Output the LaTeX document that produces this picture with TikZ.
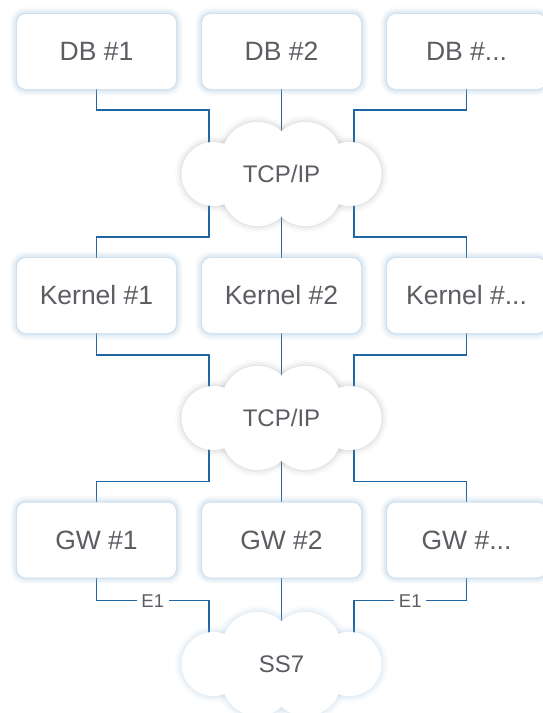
\documentclass[tikz,border=0pt]{standalone}
\usepackage{fontspec}
\setmainfont{Liberation Sans}
\usetikzlibrary{backgrounds}
\definecolor{linec}{HTML}{1F66A3}
\definecolor{textc}{HTML}{5C5C63}
\definecolor{glowb}{HTML}{9CC0DE}
\definecolor{glowg}{HTML}{A0A0A0}
\tikzset{
  box/.style={rounded corners=9pt, fill=white, minimum width=159pt, minimum height=75pt,
    text=textc, font=\fontsize{26.5}{30}\selectfont, inner sep=0pt,
    preaction={draw=glowb, line width=14pt, draw opacity=.06},
    preaction={draw=glowb, line width=10pt, draw opacity=.10},
    preaction={draw=glowb, line width=6pt, draw opacity=.15},
    preaction={draw=glowb, line width=2.5pt, draw opacity=.25}},
  conn/.style={draw=linec, line width=1.5pt},
  cloudtext/.style={text=textc, font=\fontsize{24}{28}\selectfont},
  elabel/.style={fill=white, text=textc, font=\fontsize{18.5}{22}\selectfont, inner sep=4.5pt}
}
\newcommand{\mycloud}[2]{%
  \begin{scope}[shift={(#1)}]
    \foreach \dx/\dy/\r in {-68/0/32, 68/0/32, -24/-16/36, 24/-16/36, -24/16/36, 24/16/36} {
      \draw[draw=#2, line width=13pt, draw opacity=.05] (\dx,\dy) circle (\r pt);
      \draw[draw=#2, line width=8pt, draw opacity=.08] (\dx,\dy) circle (\r pt);
      \draw[draw=#2, line width=3.5pt, draw opacity=.13] (\dx,\dy) circle (\r pt);
    }
    \foreach \dx/\dy/\r in {-68/0/32, 68/0/32, -24/-16/36, 24/-16/36, -24/16/36, 24/16/36} {
      \fill[white] (\dx,\dy) circle (\r pt);
    }
  \end{scope}}
\begin{document}
\begin{tikzpicture}[x=1pt,y=-1pt]
  \useasboundingbox (0,0) rectangle (542,713);

  % boxes
  \node[box] (db1) at (96.5,51.5) {DB \#1};
  \node[box] (db2) at (281.5,51.5) {DB \#2};
  \node[box] (db3) at (466.5,51.5) {DB \#...};
  \node[box] (k1) at (96.5,295.5) {Kernel \#1};
  \node[box] (k2) at (281.5,295.5) {Kernel \#2};
  \node[box] (k3) at (466.5,295.5) {Kernel \#...};
  \node[box] (g1) at (96.5,540) {GW \#1};
  \node[box] (g2) at (281.5,540) {GW \#2};
  \node[box] (g3) at (466.5,540) {GW \#...};

  % cloud centres and ports
  \coordinate (c1) at (281.5,174);
  \coordinate (c2) at (281.5,418);
  \coordinate (c3) at (281.5,664);
  \coordinate (c1w) at (209,174);
  \coordinate (c1e) at (354,174);
  \coordinate (c2w) at (209,418);
  \coordinate (c2e) at (354,418);
  \coordinate (c3w) at (209,664);
  \coordinate (c3e) at (354,664);

  % clouds
  \mycloud{c1}{glowg}
  \mycloud{c2}{glowg}
  \mycloud{c3}{glowb}
  \node[cloudtext] (t1) at (c1) {TCP/IP};
  \node[cloudtext] (t2) at (c2) {TCP/IP};
  \node[cloudtext] (t3) at (c3) {SS7};

  % connectors
  \begin{scope}[on background layer]
    \fill[white] (0,0) rectangle (542,713);
    \draw[conn] (db1.south) -- ++(0,21) -| (c1w);
    \draw[conn] (db2.south) -- (c1);
    \draw[conn] (db3.south) -- ++(0,21) -| (c1e);
    \draw[conn] (k1.north) -- ++(0,-21) -| (c1w);
    \draw[conn] (c1) -- (k2.north);
    \draw[conn] (k3.north) -- ++(0,-21) -| (c1e);
    \draw[conn] (k1.south) -- ++(0,22) -| (c2w);
    \draw[conn] (k2.south) -- (c2);
    \draw[conn] (k3.south) -- ++(0,22) -| (c2e);
    \draw[conn] (g1.north) -- ++(0,-21) -| (c2w);
    \draw[conn] (c2) -- (g2.north);
    \draw[conn] (g3.north) -- ++(0,-21) -| (c2e);
    \draw[conn] (g1.south) -- ++(0,23) -- node[elabel]{E1} ++(112.5,0) -- (c3w);
    \draw[conn] (g2.south) -- (c3);
    \draw[conn] (g3.south) -- ++(0,23) -- node[elabel]{E1} ++(-112.5,0) -- (c3e);
  \end{scope}
\end{tikzpicture}
\end{document}
